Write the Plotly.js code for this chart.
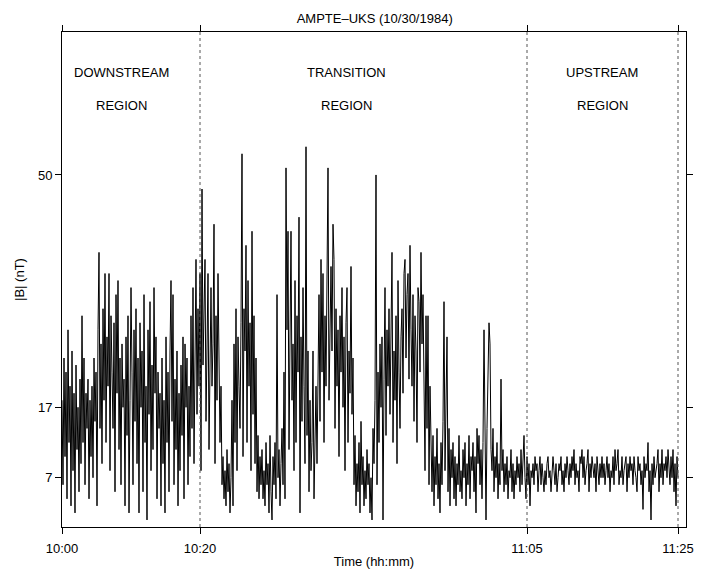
<!DOCTYPE html>
<html>
<head>
<meta charset="utf-8">
<script src="https://cdn.plot.ly/plotly-3.0.1.min.js"></script>
<style>html,body{margin:0;padding:0;background:#fff;}#chart{width:707px;height:569px;}</style>
</head>
<body>
<div id="chart"></div>
<script>
// |B| samples (nT), one per sample step
var bMag = [
18,6,24,10,22,4,28,12,20,3,
25,8,19,2,23,11,17,5,21,9,
30,12,24,6,19,14,21,4,18,10,
20,7,24,15,22,3,28,39,14,26,
9,31,18,36,12,27,20,36,8,30,
22,14,29,5,33,19,35,11,24,6,
26,17,21,3,27,13,30,2,18,34,
22,6,28,15,31,9,24,2,29,17,
25,5,33,12,20,1,28,16,32,8,
23,11,34,19,27,4,22,14,19,3,
24,9,18,2,27,12,22,5,25,35,
15,33,6,21,11,25,3,19,8,23,
13,27,4,26,17,24,6,20,10,30,
14,34,9,27,38,16,31,20,36,8,
48,23,33,38,15,30,36,11,28,34,
20,26,43,9,30,18,36,24,12,20,
6,10,4,8,3,11,5,9,2,7,
18,3,26,12,31,8,27,20,14,29,
53,10,31,25,40,12,35,20,29,8,
42,16,30,9,24,5,13,4,10,6,
11,4,8,3,12,6,9,2,13,5,
1,10,6,12,4,33,7,11,3,9,
14,6,22,4,51,28,42,11,31,42,
18,26,8,35,12,30,22,44,2,27,
15,34,20,9,54,13,25,5,18,8,
12,25,4,14,20,9,27,33,15,38,
22,36,12,30,20,40,51,18,33,37,
25,43,38,14,31,20,28,10,30,22,
34,17,27,8,29,34,12,25,19,37,
16,24,6,13,3,9,5,12,2,15,
6,10,3,8,4,11,6,9,2,7,
1,14,9,18,50,6,22,12,26,17,
27,1,21,34,13,28,20,31,16,26,
39,12,25,18,30,9,35,22,14,27,
31,19,36,38,24,33,36,21,40,28,
20,33,15,30,25,12,34,32,22,39,
26,33,18,8,30,14,30,6,20,11,
5,13,3,10,6,14,4,9,2,12,
6,15,32,8,18,27,5,14,3,11,
7,12,4,10,3,9,6,13,5,8,
4,11,7,12,3,9,6,13,4,10,
8,12,5,10,2,14,9,13,6,11,
4,12,28,7,1,14,22,29,26,11,
8,14,5,10,7,12,4,9,6,21,
8,11,5,9,6,10,4,8,7,11,
5,9,4,8,6,10,7,9,5,11,
6,9,13,7,4,10,6,9,3,8,
7,9,6,10,8,9,5,8,10,6,
9,7,5,8,6,9,10,7,8,5,
7,10,8,6,9,5,7,9,8,10,
6,8,5,9,7,10,8,6,9,7,
10,8,11,6,9,7,8,5,10,9,
11,7,10,6,8,9,11,5,9,7,
10,8,7,9,5,10,8,6,9,7,
10,7,9,6,8,10,7,9,5,8,
7,10,6,11,8,9,11,6,8,7,
10,6,8,9,10,5,9,7,10,8,
9,6,10,8,7,5,10,8,9,6,
8,2.5,10,7,9,8,12,5,8,1,
9,6,10,7,8,9,11,5,9,7,
11,6,9,8,10,7,11,9,6,10,
7,11,5,9,3,10,7
];
var sampleIndex = bMag.map(function(_, i){ return i; });

// time tick labels and the sample positions at which they sit
var timeLabels = ["10:00", "10:20", "11:05", "11:25"];
var timeTickPos = [0, 138, 465, 616];
// region boundaries (dotted lines)
var boundaryPos = [138, 465, 616];
// region labels
var regionNames = ["DOWNSTREAM", "TRANSITION", "UPSTREAM"];
var regionCenters = [59, 284, 540];
var yTicks = [7, 17, 50];

var font = "Liberation Sans, Arial, Helvetica, sans-serif";

var shapes = boundaryPos.map(function(p){
  return {type:"line", xref:"x", yref:"paper", x0:p, x1:p, y0:0, y1:1,
          line:{color:"#555", width:1, dash:"dot"}};
});
var annotations = [];
regionNames.forEach(function(n, k){
  annotations.push({x:regionCenters[k], y:64.6, xref:"x", yref:"y", text:n, showarrow:false,
    font:{family:font, size:13, color:"#000"}});
  annotations.push({x:regionCenters[k], y:59.8, xref:"x", yref:"y", text:"REGION", showarrow:false,
    font:{family:font, size:13, color:"#000"}});
});

var trace = {x: sampleIndex, y: bMag, type:"scatter", mode:"lines",
  line:{color:"#000", width:1}, hoverinfo:"skip"};

var layout = {
  width:707, height:569,
  margin:{l:62, r:21, t:32, b:42},
  paper_bgcolor:"#fff", plot_bgcolor:"#fff",
  showlegend:false,
  font:{family:font, size:12, color:"#000"},
  title:{text:"AMPTE\u2013UKS (10/30/1984)", x:0.53, xanchor:"center", y:0.968, yanchor:"middle",
    font:{family:font, size:13, color:"#000"}},
  xaxis:{range:[0,624], tickvals:timeTickPos, ticktext:timeLabels, ticks:"outside", ticklen:6,
    ticklabelstandoff:3,
    tickcolor:"#000", showline:true, linecolor:"#000", linewidth:1, mirror:"ticks",
    showgrid:false, zeroline:false, tickfont:{family:font, size:13},
    title:{text:"Time (hh:mm)", standoff:3, font:{family:font, size:13}}},
  yaxis:{range:[0,70.3], tickvals:yTicks, ticks:"outside", ticklen:6, tickcolor:"#000",
    showline:true, linecolor:"#000", linewidth:1, mirror:"ticks",
    showgrid:false, zeroline:false, tickfont:{family:font, size:13},
    title:{text:"|B| (nT)", standoff:10, font:{family:font, size:13}}},
  shapes:shapes, annotations:annotations
};
Plotly.newPlot("chart", [trace], layout, {displayModeBar:false, staticPlot:true});
</script>
</body>
</html>
